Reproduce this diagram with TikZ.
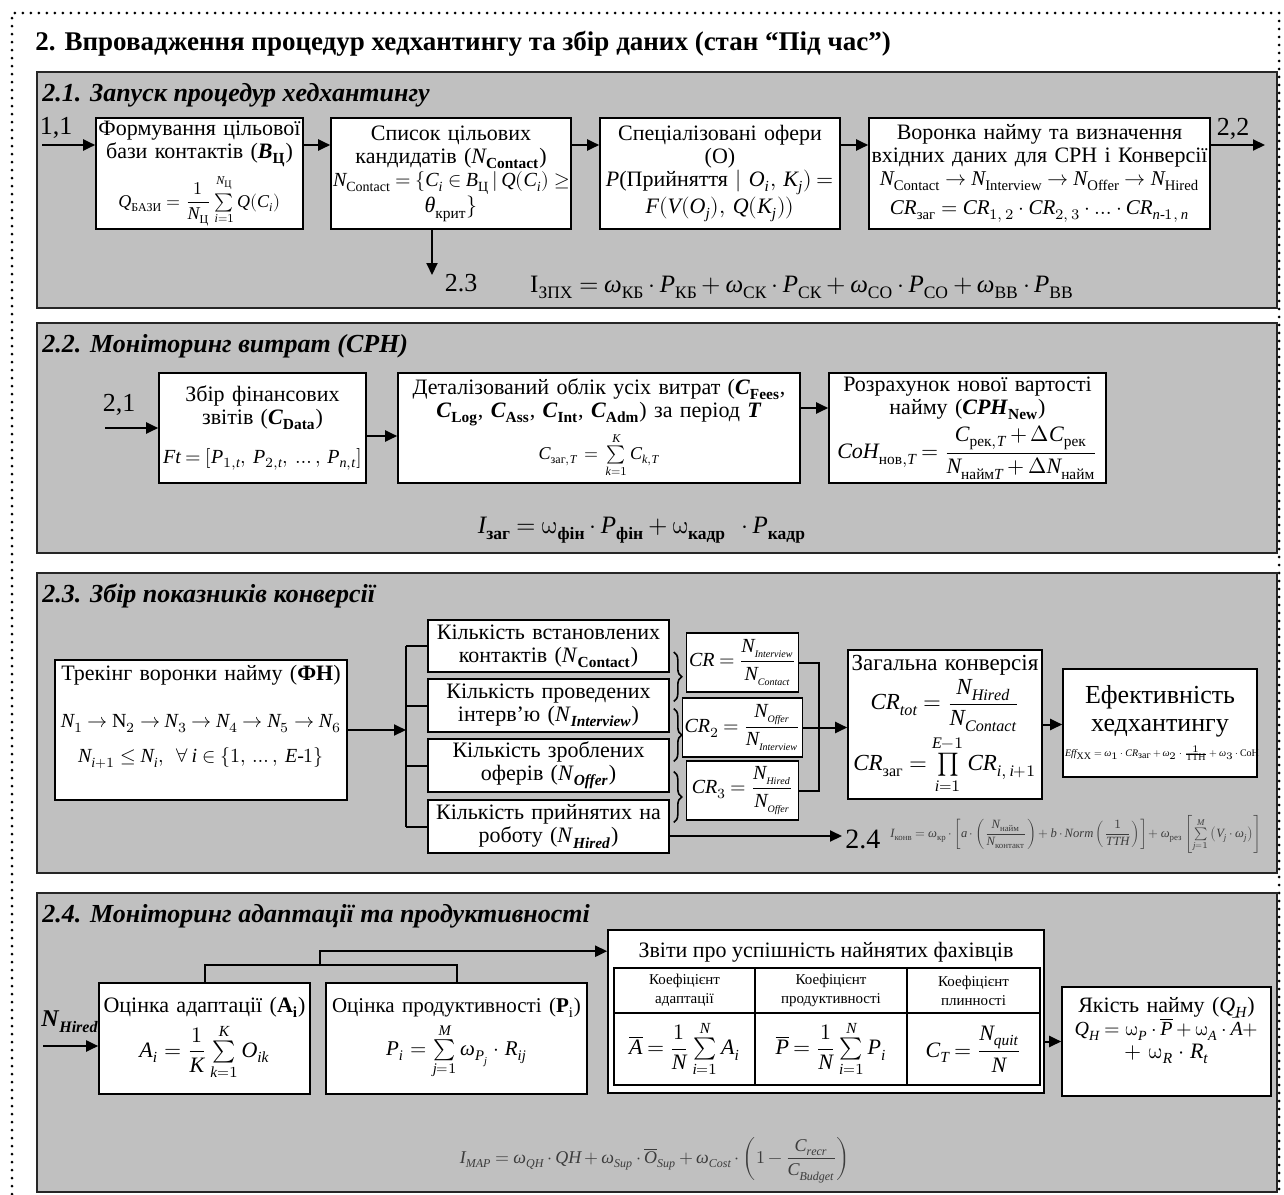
\documentclass[tikz,border=0pt]{standalone}
\usepackage{amsmath}
\usepackage{fontspec}
\usepackage{unicode-math}
\setmainfont{Liberation Serif}
\setmathfont{Latin Modern Math}
\setmathfont{Liberation Serif Italic}[range=it->up]
\usetikzlibrary{arrows.meta, decorations.pathreplacing, calc, positioning}
\definecolor{panelgray}{RGB}{192,192,192}
\definecolor{formulagray}{RGB}{60,60,60}
% bold italic letter with bold subscript
\newcommand{\bsub}[2]{\textbf{\textit{#1}}\textsubscript{\textbf{#2}}}
\tikzset{
  blk/.style={draw=black, fill=white, line width=0.8pt, align=center, inner sep=1pt},
  cell/.style={draw=black, line width=0.8pt, align=center, inner sep=0.5pt},
  arr/.style={-{Triangle[length=6pt,width=5.5pt]}, line width=1pt},
  wire/.style={line width=1pt},
  panel/.style={draw=black!85, fill=panelgray, line width=1.3pt},
  paneltitle/.style={anchor=west, inner sep=0pt, font=\fontsize{13}{14}\selectfont\bfseries\itshape},
  lbl/.style={inner sep=0pt, font=\fontsize{13}{13}\selectfont},
}
\begin{document}
\relpenalty=10000 \binoppenalty=10000
\thickmuskip=4mu plus 1mu \medmuskip=3mu plus 1mu
\begin{tikzpicture}[x=0.5pt, y=-0.5pt, font=\fontsize{11}{11.5}\selectfont]
\useasboundingbox (0,0) rectangle (1284,1194);
% dotted outer frame
\draw[line width=1.5pt, line cap=round, dash pattern=on 0pt off 4pt] (12,1210) -- (12,13) -- (1279,13) -- (1279,1210);
\node[anchor=west, inner sep=0pt, font=\fontsize{13.5}{14}\selectfont\bfseries] (title) at (35,44) {2. Впровадження процедур хедхантингу та збір даних (стан “Під час”)};

% ---- 2.1
\draw[panel] (37,72) rectangle (1277,308);
\node[paneltitle] (t21) at (42,95) {2.1. Запуск процедур хедхантингу};
\node[blk, text width=101.5pt, minimum height=55.5pt] (a1) at (199.5,173.5) {Формування цільової\\ бази контактів (\bsub{B}{Ц})\\[3pt] {\small $Q_{\text{БАЗИ}} = \dfrac{1}{N_{\text{Ц}}}\sum\limits_{i=1}^{N_{\text{Ц}}} Q(C_i)$}};
\node[blk, text width=118pt, minimum height=55.5pt] (a2) at (451,173.5) {Список цільових\\ кандидатів ($N_{\text{\bfseries Contact}}$)\\ {\fontsize{10}{11.5}\selectfont $N_{\text{Contact}} = \{C_i \in B_{\text{Ц}}\,|\, Q(C_i) \geq$}\\ $\theta_{\text{крит}}\}$};
\node[blk, text width=118pt, minimum height=55.5pt] (a3) at (720,173.5) {Спеціалізовані офери\\ (O)\\ $P$(Прийняття $|\ O_i,\, K_j) =$\\ $F(V(O_j),\, Q(K_j))$};
\node[blk, text width=168.5pt, minimum height=55.5pt] (a4) at (1039.5,173.5) {Воронка найму та визначення\\ вхідних даних для CPH і Конверсії\\ {\fontsize{10.5}{11.5}\selectfont $N_{\text{Contact}} \to N_{\text{Interview}} \to N_{\text{Offer}} \to N_{\text{Hired}}$}\\[3pt] {\fontsize{10.5}{11.5}\selectfont $CR_{\text{заг}} = CR_{1,\,2}\cdot CR_{2,\,3}\cdot \ldots \cdot CR_{n\text{-}1,\,n}$}};
\coordinate (in11) at (42,145);
\coordinate (out22) at (1265,145);
\coordinate (to23) at (432,275);
\draw[arr] (in11) -- (a1.west |- in11);
\draw[arr] (a1.east |- in11) -- (a2.west |- in11);
\draw[arr] (a2.east |- in11) -- (a3.west |- in11);
\draw[arr] (a3.east |- in11) -- (a4.west |- in11);
\draw[arr] (a4.east |- in11) -- (out22);
\draw[arr] (a2.south -| to23) -- (to23);
\node[lbl] (l11) at (56,128) {1,1};
\node[lbl] (l22) at (1233,129) {2,2};
\node[lbl] (l23) at (461,283) {2.3};
\node[font=\fontsize{12.5}{14}\selectfont] (izpx) at (802,287) {$\text{I}_{\text{ЗПХ}} = \omega_{\text{КБ}}\cdot P_{\text{КБ}} + \omega_{\text{СК}}\cdot P_{\text{СК}} + \omega_{\text{СО}}\cdot P_{\text{СО}} + \omega_{\text{ВВ}}\cdot P_{\text{ВВ}}$};

% ---- 2.2
\draw[panel] (37,323) rectangle (1277,553);
\node[paneltitle] (t22) at (42,346) {2.2. Моніторинг витрат (CPH)};
\node[blk, text width=101.5pt, minimum height=55pt] (b1) at (262.5,428) {Збір фінансових\\ звітів (\bsub{C}{Data})\\[8pt] {\fontsize{10}{11.5}\selectfont $Ft = [P_{1,t},\, P_{2,t},\, \ldots,\, P_{n,t}]$}};
\node[blk, text width=199pt, minimum height=55pt] (b2) at (599,428) {Деталізований облік усіх витрат (\bsub{C}{Fees},\\ \bsub{C}{Log}, \bsub{C}{Ass}, \bsub{C}{Int}, \bsub{C}{Adm}) за період \textbf{\textit{T}}\\[2pt] {\small $C_{\text{заг},T} = \sum\limits_{k=1}^{K} C_{k,T}$}};
\node[blk, text width=136.5pt, minimum height=55pt] (b3) at (967.5,428) {Розрахунок нової вартості\\ найму (\bsub{CPH}{New})\\[2pt] $CoH_{\text{нов},T} = \dfrac{C_{\text{рек},T} + \Delta C_{\text{рек}}}{N_{\text{найм}T} + \Delta N_{\text{найм}}}$};
\coordinate (in21) at (105,428);
\coordinate (r21) at ([yshift=-4pt]b1.east);
\coordinate (r22) at ([yshift=10pt]b2.east);
\draw[arr] (in21) -- (b1.west |- in21);
\draw[arr] (r21) -- (r21 -| b2.west);
\draw[arr] (r22) -- (r22 -| b3.west);
\node[lbl] (l21) at (119,405) {2,1};
\node[font=\fontsize{12.5}{13}\selectfont] (izag) at (642,530) {$I_{\text{\bfseries заг}} = \upomega_{\text{\bfseries фін}}\cdot P_{\text{\bfseries фін}} + \upomega_{\text{\bfseries кадр}}\;\;\cdot P_{\text{\bfseries кадр}}$};

% ---- 2.3
\draw[panel] (37,573) rectangle (1277,873);
\node[paneltitle] (t23) at (42,596) {2.3. Збір показників конверсії};
\node[blk, text width=144pt, minimum height=70pt] (c0) at (201,730) {Трекінг воронки найму (\textbf{ФН})\\[12pt] {\fontsize{10}{11.5}\selectfont $N_1 \to \mathrm{N}_2 \to N_3 \to N_4 \to N_5 \to N_6$}\\[6pt] {\fontsize{10}{11.5}\selectfont $N_{i+1} \leq N_i,\ \forall\, i \in \{1,\, \ldots,\, E\text{-}1\}$}\\[4.5pt]\mbox{}};
\node[blk, text width=118.5pt, minimum height=26pt] (d1) at (548.5,646) {Кількість встановлених\\ контактів (\textit{N}\textsubscript{\textbf{Contact}})};
\node[blk, text width=118.5pt, minimum height=26.5pt] (d2) at (548.5,705.5) {Кількість проведених\\ інтерв’ю (\textit{N}\textsubscript{\textbf{\textit{Interview}}})};
\node[blk, text width=118.5pt, minimum height=26.5pt] (d3) at (548.5,765.5) {Кількість зроблених\\ оферів (\textit{N}\textsubscript{\textbf{\textit{Offer}}})};
\node[blk, text width=118.5pt, minimum height=26.5pt] (d4) at (548.5,826.5) {Кількість прийнятих на\\ роботу (\textit{N}\textsubscript{\textbf{\textit{Hired}}})};
\coordinate (fork) at (406,730);
\draw[arr] (c0.east) -- (fork);
\draw[wire] (fork |- d1.west) -- (fork |- d4.west);
\foreach \d in {d1,d2,d3,d4}
  \draw[wire] (fork |- \d.west) -- (\d.west);
\node[blk, minimum width=56pt, minimum height=29.5pt, font=\fontsize{10}{11}\selectfont] (e1) at (742.5,662.5) {$CR = \dfrac{N_{\scriptscriptstyle Interview}}{N_{\scriptscriptstyle Contact}}$};
\node[blk, minimum width=56pt, minimum height=29.5pt, font=\fontsize{10}{11}\selectfont] (e2) at (742.5,727.5) {$CR_2 = \dfrac{N_{\scriptscriptstyle Offer}}{N_{\scriptscriptstyle Interview}}$};
\node[blk, minimum width=56pt, minimum height=29.5pt, font=\fontsize{10}{11}\selectfont] (e3) at (742.5,790.5) {$CR_3 = \dfrac{N_{\scriptscriptstyle Hired}}{N_{\scriptscriptstyle Offer}}$};
\draw[line width=0.8pt, decorate, decoration={brace, amplitude=4pt}] ([xshift=2pt,yshift=-3pt]d1.east) -- ([xshift=2pt,yshift=2pt]d2.east);
\draw[line width=0.8pt, decorate, decoration={brace, amplitude=4pt}] ([xshift=2pt,yshift=-1.5pt]d2.east) -- ([xshift=2pt,yshift=2pt]d3.east);
\draw[line width=0.8pt, decorate, decoration={brace, amplitude=4pt}] ([xshift=2pt,yshift=-3pt]d3.east) -- ([xshift=2pt,yshift=2pt]d4.east);
\node[blk, text width=95pt, minimum height=74.5pt] (f) at (945,724.5) {\fontsize{11.5}{12.5}\selectfont Загальна конверсія\\[1pt] $CR_{tot} = \dfrac{N_{Hired}}{N_{Contact}}$\\[1pt] $CR_{\text{заг}} = \prod\limits_{i=1}^{E-1} CR_{i,\,i+1}$};
\node[blk, text width=95pt, minimum height=54pt] (g) at (1160,723) {\fontsize{13}{14}\selectfont Ефективність\\ хедхантингу\\[1pt] \fontsize{5}{6}\selectfont $Eff_{\text{ХХ}} = \omega_1\cdot CR_{\text{заг}} + \omega_2\cdot\frac{1}{\text{TTH}} + \omega_3\cdot \text{CoH}$};
\draw[wire] (e1.east) -- ++(10pt,0) |- (e3.east);
\draw[arr] (e2.east) -- (e2.east -| f.west);
\draw[arr] (f.east) -- (f.east -| g.west);
\coordinate (to24) at (842,836);
\draw[arr] (d4.east |- to24) -- (to24);
\node[lbl, anchor=west, font=\fontsize{14}{14}\selectfont] (l24) at (845,839) {2.4};
\node[text=formulagray, font=\fontsize{6.3}{7}\selectfont] (iconv) at (1076,834) {$I_{\text{конв}} = \omega_{\text{кр}}\cdot\left[a\cdot\left(\dfrac{N_{\text{найм}}}{N_{\text{контакт}}}\right) + b\cdot \mathit{Norm}\left(\dfrac{1}{TTH}\right)\right] + \omega_{\text{рез}}\left[\sum\limits_{j=1}^{M}\left(V_j\cdot\omega_j\right)\right]$};

% ---- 2.4
\draw[panel] (37,893) rectangle (1277,1192);
\node[paneltitle] (t24) at (42,916) {2.4. Моніторинг адаптації та продуктивності};
\node[blk, text width=103.5pt, minimum height=55.5pt] (h1) at (204.5,1038.5) {Оцінка адаптації (\textbf{A}\textsubscript{\textbf{i}})\\[2pt] $A_i = \dfrac{1}{K}\sum\limits_{k=1}^{K} O_{ik}$};
\node[blk, text width=128.5pt, minimum height=55.5pt] (h2) at (456.5,1038.5) {\fontsize{10.5}{11.5}\selectfont Оцінка продуктивності (\textbf{P}\textsubscript{i})\\[2pt] $P_i = \sum\limits_{j=1}^{M} \omega_{P_j}\cdot R_{ij}$};
\node[blk, minimum width=218pt, minimum height=81.5pt] (rep) at (826,1011.5) {};
\node[inner sep=0pt] (rept) at (826,952) {Звіти про успішність найнятих фахівців};
\node[cell, minimum width=70.5pt, minimum height=22.5pt, font=\fontsize{7.5}{9.5}\selectfont] (k1) at (684.5,990.5) {Коефіцієнт\\адаптації};
\node[cell, minimum width=76pt, minimum height=22.5pt, font=\fontsize{7.5}{9.5}\selectfont] (k2) at (831,990.5) {Коефіцієнт\\продуктивності};
\node[cell, minimum width=66.5pt, minimum height=22.5pt, font=\fontsize{7.5}{9.5}\selectfont] (k3) at (973.5,990.5) {Коефіцієнт\\плинності};
\node[cell, minimum width=70.5pt, minimum height=36pt] (m1) at (684.5,1049) {$\overline{A} = \dfrac{1}{N}\sum\limits_{i=1}^{N} A_i$};
\node[cell, minimum width=76pt, minimum height=36pt] (m2) at (831,1049) {$\overline{P} = \dfrac{1}{N}\sum\limits_{i=1}^{N} P_i$};
\node[cell, minimum width=66.5pt, minimum height=36pt] (m3) at (973.5,1049) {$C_T = \dfrac{N_{quit}}{N}$};
\node[blk, text width=102.5pt, minimum height=54.5pt] (qh) at (1166.5,1041.5) {Якість найму (\textit{Q\textsubscript{H}})\\ {\fontsize{10}{11.5}\selectfont $Q_H = \upomega_P\cdot\overline{P} + \upomega_A\cdot\bar{A} +$}\\ $+\ \upomega_R\cdot R_t$\\[2.5pt]\mbox{}};
\coordinate (inH) at (43,1046);
\coordinate (hj) at (320,966);
\draw[arr] (inH) -- (h1.west |- inH);
\node[font=\fontsize{12}{12}\selectfont, inner sep=0pt] (lH) at (70,1022) {\textbf{\textit{N}}\textsubscript{\textbf{\textit{Hired}}}};
\draw[wire] (h1.north) -- ++(0,-17) -| (h2.north);
\draw[arr] (hj) |- ([yshift=-11pt]rep.north west);
\draw[arr] (rep.east |- qh.west) -- (qh.west);
\node[text=formulagray, font=\fontsize{9}{10}\selectfont] (imap) at (655,1160) {$I_{MAP} = \omega_{QH}\cdot QH + \omega_{Sup}\cdot\overline{O}_{Sup} + \omega_{Cost}\cdot\left(1 - \dfrac{C_{recr}}{C_{Budget}}\right)$};
\end{tikzpicture}
\end{document}
